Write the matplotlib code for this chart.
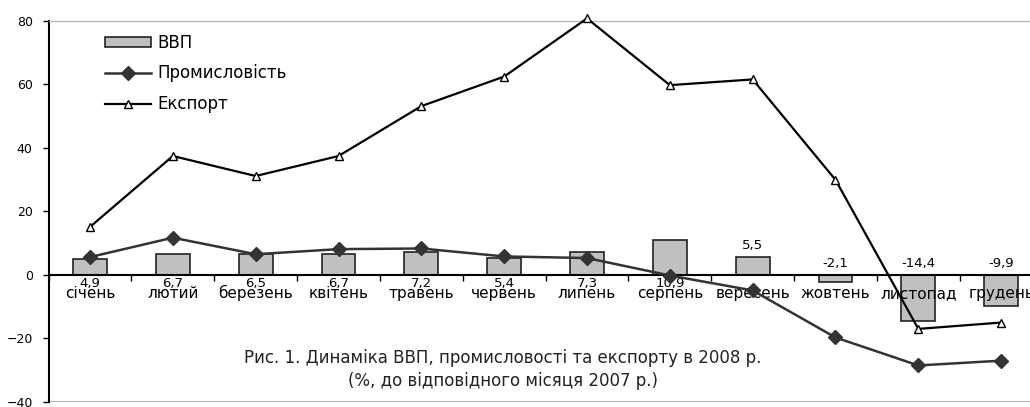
import matplotlib
matplotlib.use("Agg")
import matplotlib.pyplot as plt
import numpy as np

# Data (% to the same month of 2007)
months = ["січень", "лютий", "березень", "квітень", "травень", "червень",
          "липень", "серпень", "вересень", "жовтень", "листопад", "грудень"]
gdp = [4.9, 6.7, 6.5, 6.7, 7.2, 5.4, 7.3, 10.9, 5.5, -2.1, -14.4, -9.9]
industry = [5.6, 11.7, 6.5, 8.1, 8.3, 5.8, 5.3, -0.2, -4.9, -19.7, -28.5, -27.0]
export = [15.1, 37.4, 31.1, 37.4, 53.1, 62.4, 80.7, 59.7, 61.5, 29.9, -17.0, -15.0]
gdp_labels = ["4,9", "6,7", "6,5", "6,7", "7,2", "5,4", "7,3", "10,9", "5,5", "-2,1", "-14,4", "-9,9"]

plt.rcParams["font.family"] = ["DejaVu Sans"]

fig = plt.figure(figsize=(10.3, 4.07), dpi=100)
ax = fig.add_axes([0.0472, 0.0123, 0.965, 0.937])

x = np.arange(len(months))

bars = ax.bar(x, gdp, width=0.41, color="#c0c0c0", edgecolor="#222222", linewidth=1.2,
              label="ВВП", zorder=2)
l_ind, = ax.plot(x, industry, color="#333333", linewidth=1.8, marker="D", markersize=7.5,
                 markerfacecolor="#333333", markeredgecolor="#333333",
                 label="Промисловість", zorder=4)
l_exp, = ax.plot(x, export, color="black", linewidth=1.6, marker="^", markersize=6,
                 markerfacecolor="white", markeredgecolor="black", markeredgewidth=1.0,
                 label="Експорт", zorder=3, clip_on=False)

# month names under the zero axis
for i, m in enumerate(months):
    ax.annotate(m, (i, 0), xytext=(0, -17), textcoords="offset points",
                ha="center", va="baseline", fontsize=11, annotation_clip=False)

# value labels for GDP bars (drawn after months so they stay readable)
for i, (v, s) in enumerate(zip(gdp, gdp_labels)):
    if v < 0:
        ax.annotate(s, (i, 0), xytext=(0, 6), textcoords="offset points",
                    ha="center", va="baseline", fontsize=9.5)
    elif i < 8:
        ax.annotate(s, (i, 0), xytext=(0, -9), textcoords="offset points",
                    ha="center", va="baseline", fontsize=9.5)
    else:
        ax.annotate(s, (i, v), xytext=(0, 6), textcoords="offset points",
                    ha="center", va="baseline", fontsize=9.5)

ax.set_xlim(-0.5, len(months) - 0.5)
ax.set_ylim(-40, 80)
ax.set_yticks([-40, -20, 0, 20, 40, 60, 80])
ax.tick_params(axis="y", length=4.5, width=1, pad=7, labelsize=9, direction="out")

# category axis sits at zero
ax.spines["bottom"].set_position(("data", 0))
ax.spines["bottom"].set_color("black")
ax.spines["bottom"].set_linewidth(1.5)
ax.spines["left"].set_color("black")
ax.spines["left"].set_linewidth(1.5)
for side in ["top", "right"]:
    ax.spines[side].set_color("#b8b8b8")
    ax.spines[side].set_linewidth(1)
ax.axhline(-40, color="#b8b8b8", linewidth=1.5, zorder=1)

ax.set_xticks(x)
ax.set_xticklabels([])
ax.tick_params(axis="x", which="major", length=0)
ax.set_xticks(np.arange(-0.5, len(months), 1.0), minor=True)
ax.tick_params(axis="x", which="minor", length=4, width=1, direction="out")

ax.legend([bars, l_ind, l_exp], ["ВВП", "Промисловість", "Експорт"],
          loc="upper left", bbox_to_anchor=(0.057, 0.965), frameon=False,
          fontsize=12, handlelength=2.75, handleheight=0.55, handletextpad=0.4,
          labelspacing=0.75, borderpad=0, borderaxespad=0)

ax.text(0.457, 0.085, "Рис. 1. Динаміка ВВП, промисловості та експорту в 2008 р.\n"
        "(%, до відповідного місяця 2007 р.)",
        transform=ax.transAxes, ha="center", va="center", fontsize=12,
        linespacing=1.4, color="#222222")

fig.savefig("out.png", dpi=100)
